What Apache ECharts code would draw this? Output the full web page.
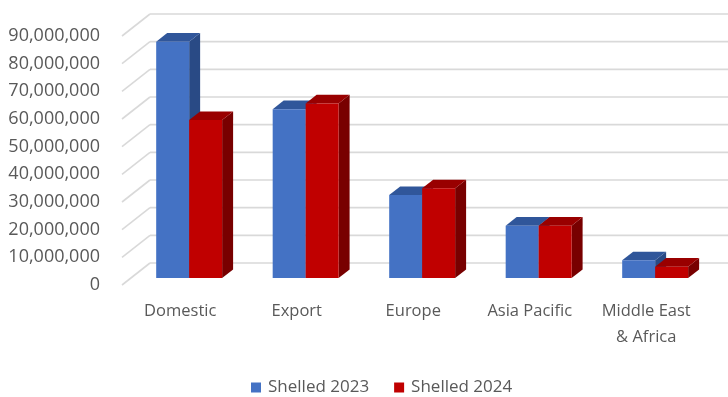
<!DOCTYPE html>
<html>
<head>
<meta charset="utf-8">
<script src="https://cdn.jsdelivr.net/npm/echarts@6/dist/echarts.min.js"></script>
<style>
  html, body { margin: 0; padding: 0; background: #ffffff; }
  #chart { width: 728px; height: 397px; }
</style>
</head>
<body>
<div id="chart"></div>
<script>
// ---- data ----
const categories = ['Domestic', 'Export', 'Europe', 'Asia Pacific', 'Middle East\n& Africa'];
const shelled2023 = [85400000, 61000000, 30000000, 18900000, 6400000];
const shelled2024 = [57100000, 63100000, 32400000, 18900000, 4100000];
const yTicks = [0, 10000000, 20000000, 30000000, 40000000, 50000000, 60000000, 70000000, 80000000, 90000000];
const seriesNames = ['Shelled 2023', 'Shelled 2024'];

// ---- style constants ----
const DX = 28, DY = 22;       // depth offset of back wall (px)
const F1 = 0.318, F2 = 0.71;  // bar front / back depth fractions
const BAR_FRAC = 0.283;       // bar width as fraction of category band
const FONT = '"Open Sans", sans-serif';
const TXT = '#595959';
const colors = [
  { front: '#4472C4', top: '#30569a', side: '#294a85' },
  { front: '#C00000', top: '#990000', side: '#780000' }
];

function fmt(v) {
  return String(Math.round(v)).replace(/\B(?=(\d{3})+(?!\d))/g, ',');
}

function wallItem(params, api) {
  const cs = params.coordSys;
  const y = api.coord([0, api.value(1)])[1];
  const lineStyle = { stroke: '#d9d9d9', lineWidth: 1.6 };
  return {
    type: 'group',
    children: [
      { type: 'line', shape: { x1: cs.x, y1: y, x2: cs.x + DX, y2: y - DY }, style: lineStyle },
      { type: 'line', shape: { x1: cs.x + DX, y1: y - DY, x2: cs.x + cs.width + DX, y2: y - DY }, style: lineStyle }
    ]
  };
}

function makeBar(si) {
  const c = colors[si];
  return function (params, api) {
    const ci = api.value(0), v = api.value(1);
    const top = api.coord([ci, v]);
    const base = api.coord([ci, 0]);
    const band = api.size([1, 0])[0];
    const w = band * BAR_FRAC;
    const x0 = (si === 0 ? top[0] - w : top[0]) + DX * F1;
    const yt = top[1] - DY * F1;
    const yb = base[1] - DY * F1;
    const sx = DX * (F2 - F1), sy = DY * (F2 - F1);
    return {
      type: 'group',
      children: [
        { type: 'polygon', shape: { points: [[x0 + w, yt], [x0 + w + sx, yt - sy], [x0 + w + sx, yb - sy], [x0 + w, yb]] }, style: { fill: c.side } },
        { type: 'polygon', shape: { points: [[x0, yt], [x0 + w, yt], [x0 + w + sx, yt - sy], [x0 + sx, yt - sy]] }, style: { fill: c.top } },
        { type: 'rect', shape: { x: x0, y: yt, width: w, height: yb - yt }, style: { fill: c.front } }
      ]
    };
  };
}

const chart = echarts.init(document.getElementById('chart'), null, { renderer: 'canvas' });
chart.setOption({
  animation: false,
  backgroundColor: '#ffffff',
  grid: { left: 122, right: 23.5, top: 36, bottom: 112, containLabel: false },
  xAxis: {
    type: 'category',
    data: categories,
    axisLine: { show: false },
    axisTick: { show: false },
    splitLine: { show: false },
    axisLabel: { color: TXT, fontFamily: FONT, fontSize: 16.5, lineHeight: 26, margin: 13, interval: 0 }
  },
  yAxis: {
    type: 'value',
    min: 0,
    max: 90000000,
    interval: 10000000,
    axisLine: { show: false },
    axisTick: { show: false },
    splitLine: { show: false },
    axisLabel: { color: TXT, fontFamily: FONT, fontSize: 18, margin: 22, formatter: fmt }
  },
  legend: {
    data: seriesNames,
    left: 246,
    top: 374,
    itemWidth: 10,
    itemHeight: 10,
    itemGap: 25,
    icon: 'rect',
    textStyle: { color: TXT, fontFamily: FONT, fontSize: 17, padding: [0, 0, 0, 2] }
  },
  series: [
    {
      type: 'custom',
      name: 'walls',
      silent: true,
      z: 1,
      clip: false,
      renderItem: wallItem,
      data: yTicks.map(v => [0, v])
    },
    {
      type: 'custom',
      name: seriesNames[0],
      z: 2,
      clip: false,
      itemStyle: { color: colors[0].front },
      renderItem: makeBar(0),
      encode: { x: 0, y: 1 },
      data: shelled2023.map((v, i) => [i, v])
    },
    {
      type: 'custom',
      name: seriesNames[1],
      z: 3,
      clip: false,
      itemStyle: { color: colors[1].front },
      renderItem: makeBar(1),
      encode: { x: 0, y: 1 },
      data: shelled2024.map((v, i) => [i, v])
    }
  ]
});
</script>
</body>
</html>
